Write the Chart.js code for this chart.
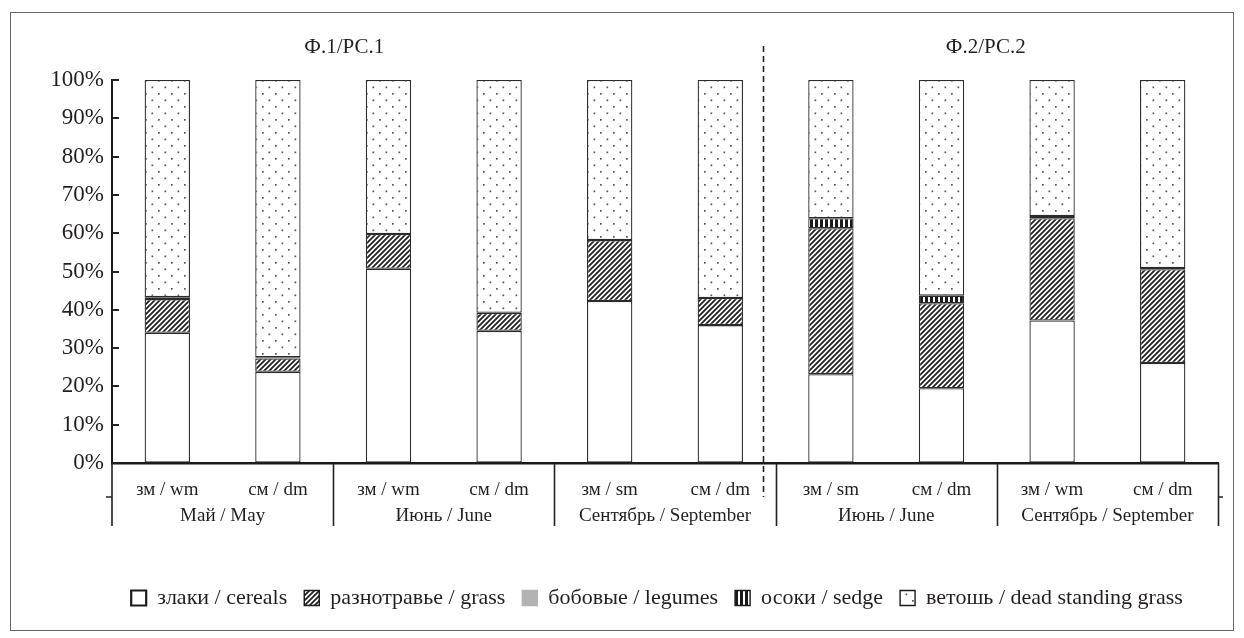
<!DOCTYPE html>
<html>
<head>
<meta charset="utf-8">
<script src="https://cdn.jsdelivr.net/npm/chart.js@4"></script>
<style>
  html, body { margin: 0; padding: 0; background: #fff; }
  #wrap { width: 1244px; height: 638px; position: relative; }
</style>
</head>
<body>
<div id="wrap"><canvas id="grafico"></canvas></div>
<script>
// подписи категорий (нижний ряд) и месяцы (второй ряд)
const categorias = ["зм / wm", "см / dm", "зм / wm", "см / dm", "зм / sm", "см / dm", "зм / sm", "см / dm", "зм / wm", "см / dm"];
const meses = ["Май / May", "Июнь / June", "Сентябрь / September", "Июнь / June", "Сентябрь / September"];
const grupos = ["Ф.1/РС.1", "Ф.2/РС.2"];

// доли, %
const zlaki = [34.0, 23.8, 50.7, 34.5, 42.3, 36.0, 23.2, 19.5, 37.2, 26.1];
const raznotrave = [8.8, 3.5, 9.1, 4.7, 15.9, 7.1, 38.1, 22.2, 26.7, 24.5];
const bobovye = [0.5, 0.3, null, null, null, null, null, null, 0.6, 0.3];
const osoki = [null, null, null, null, null, null, 2.6, 2.0, null, null];
const vetosh = [56.7, 72.4, 40.2, 60.8, 41.8, 56.9, 36.1, 56.3, 35.5, 49.1];

const yTicks = [0, 10, 20, 30, 40, 50, 60, 70, 80, 90, 100];

const fuente = "'Liberation Serif', 'DejaVu Serif', serif";
const tinta = "#231f20";

function patron(w, h, dibujar) {
  const c = document.createElement("canvas");
  c.width = w;
  c.height = h;
  const g = c.getContext("2d");
  g.fillStyle = "#fff";
  g.fillRect(0, 0, w, h);
  dibujar(g);
  return document.getElementById("grafico").getContext("2d").createPattern(c, "repeat");
}

// штриховка "////"
const rayado = patron(5, 5, (g) => {
  g.strokeStyle = "#222";
  g.lineWidth = 1.8;
  g.beginPath();
  g.moveTo(-1, 6); g.lineTo(6, -1);
  g.moveTo(-1, 1); g.lineTo(1, -1);
  g.moveTo(4, 6); g.lineTo(6, 4);
  g.stroke();
});

// вертикальные полосы
const rayas = patron(5, 5, (g) => {
  g.fillStyle = "#1a1a1a";
  g.fillRect(0, 0, 3, 5);
});

// точки
const puntos = patron(13, 13, (g) => {
  g.fillStyle = "#555";
  g.fillRect(2, 2, 1.7, 1.7);
  g.fillRect(8.5, 8.5, 1.7, 1.7);
});

const extras = {
  id: "extras",
  afterLayout(chart) {
    // сдвиг легенды вправо, как в оригинале
    chart.legend.left += 38;
    chart.legend.right += 38;
  },
  afterDraw(chart) {
    const ctx = chart.ctx;
    const x = chart.scales.x;
    const a = chart.chartArea;
    const paso = x.getPixelForValue(1) - x.getPixelForValue(0);
    const fila1 = a.bottom + 34;
    const fila2 = a.bottom + 63;
    ctx.save();
    // рамка
    ctx.strokeStyle = "#666";
    ctx.lineWidth = 1;
    ctx.strokeRect(10.5, 12.5, 1223, 618);

    // внутренние штрихи оси Y
    const y = chart.scales.y;
    ctx.strokeStyle = "#222";
    ctx.lineWidth = 2;
    ctx.beginPath();
    yTicks.forEach((v) => {
      const py = Math.round(y.getPixelForValue(v));
      ctx.moveTo(a.left, py);
      ctx.lineTo(a.left + 7, py);
    });
    ctx.stroke();

    // линии таблицы категорий
    ctx.lineWidth = 1.6;
    ctx.beginPath();
    ctx.moveTo(a.left, a.bottom);
    ctx.lineTo(a.left, fila2);
    for (let i = 2; i <= categorias.length; i += 2) {
      const px = Math.round(x.getPixelForValue(i - 0.5)) + 0.5;
      ctx.moveTo(px, a.bottom);
      ctx.lineTo(px, fila2);
    }
    ctx.moveTo(a.left - 6, fila1);
    ctx.lineTo(a.left, fila1);
    ctx.moveTo(a.right, fila1);
    ctx.lineTo(a.right + 5, fila1);
    ctx.stroke();

    // пунктир между участками
    const pd = Math.round(x.getPixelForValue(5.5) - paso * 0.11) + 0.5;
    ctx.setLineDash([6, 4]);
    ctx.lineWidth = 1.6;
    ctx.beginPath();
    ctx.moveTo(pd, 46);
    ctx.lineTo(pd, fila1);
    ctx.stroke();
    ctx.setLineDash([]);

    // заголовки участков
    ctx.fillStyle = tinta;
    ctx.font = "21px " + fuente;
    ctx.textAlign = "center";
    ctx.textBaseline = "middle";
    ctx.fillText(grupos[0], x.getPixelForValue(1.6), 47);
    ctx.fillText(grupos[1], x.getPixelForValue(7.4), 47);
    ctx.restore();
  },
};

const ctx = document.getElementById("grafico").getContext("2d");
const borde = "#2b2b2b";

new Chart(ctx, {
  type: "bar",
  data: {
    labels: categorias,
    datasets: [
      { label: "злаки / cereals", data: zlaki, backgroundColor: "#fff", borderColor: borde },
      { label: "разнотравье / grass", data: raznotrave, backgroundColor: rayado, borderColor: borde },
      { label: "бобовые / legumes", data: bobovye, backgroundColor: "#b3b3b3", borderColor: borde },
      { label: "осоки / sedge", data: osoki, backgroundColor: rayas, borderColor: borde },
      { label: "ветошь / dead standing grass", data: vetosh, backgroundColor: puntos, borderColor: borde },
    ].map((d) => ({
      ...d,
      borderWidth: 1.3,
      borderSkipped: false,
      barPercentage: 0.41,
      categoryPercentage: 1,
    })),
  },
  options: {
    responsive: true,
    maintainAspectRatio: false,
    animation: false,
    layout: { padding: { left: 20, right: 26, top: 80, bottom: 19 } },
    plugins: {
      tooltip: { enabled: false },
      legend: {
        position: "bottom",
        labels: {
          color: tinta,
          font: { family: fuente, size: 22 },
          boxWidth: 15,
          boxHeight: 15,
          padding: 17,
          generateLabels: (chart) =>
            chart.data.datasets.map((d, i) => ({
              text: d.label,
              fillStyle: d.backgroundColor,
              strokeStyle: i === 2 ? d.backgroundColor : "#1a1a1a",
              lineWidth: i === 0 ? 2.2 : 1.4,
              fontColor: tinta,
              datasetIndex: i,
            })),
        },
      },
    },
    scales: {
      x: {
        stacked: true,
        grid: { display: false },
        border: { display: true, color: "#1a1a1a", width: 2.5 },
        ticks: { color: tinta, font: { family: fuente, size: 19 }, padding: 8, maxRotation: 0 },
        afterFit: (s) => { s.height = 34; },
      },
      x2: {
        type: "category",
        labels: meses,
        position: "bottom",
        offset: true,
        grid: { display: false },
        border: { display: false },
        ticks: { color: tinta, font: { family: fuente, size: 19 }, padding: 0, maxRotation: 0 },
        afterFit: (s) => { s.height = 73; },
      },
      y: {
        stacked: true,
        min: 0,
        max: 100,
        grid: { drawOnChartArea: false, drawTicks: false },
        border: { display: true, color: "#1a1a1a", width: 2 },
        ticks: {
          stepSize: 10,
          color: tinta,
          font: { family: fuente, size: 23 },
          padding: 8,
          callback: (v) => v + "%",
        },
        afterFit: (s) => { s.width = 92; },
      },
    },
  },
  plugins: [extras],
});
</script>
</body>
</html>
